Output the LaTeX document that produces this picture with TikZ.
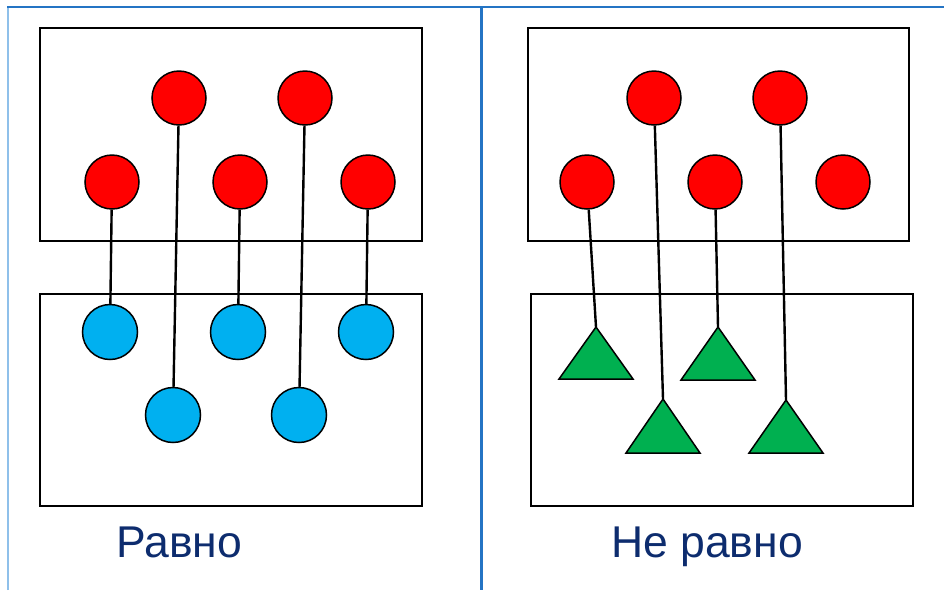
\documentclass[tikz,border=0pt]{standalone}
\usepackage{fontspec}
\setmainfont{Liberation Sans}
\definecolor{rd}{HTML}{FF0000}
\definecolor{bl}{HTML}{00B0F0}
\definecolor{gr}{HTML}{00B050}
\definecolor{navy}{HTML}{0D2C6E}
\definecolor{frameblue}{HTML}{2474C4}
\definecolor{lightblue}{HTML}{8FC0EA}
\begin{document}
\begin{tikzpicture}[x=1pt,y=-1pt,
  box/.style={draw=black,line width=1.9pt},
  redc/.style={circle,draw=black,fill=rd,line width=1.5pt,minimum size=54pt,inner sep=0pt},
  bluec/.style={circle,draw=black,fill=bl,line width=1.5pt,minimum size=55pt,inner sep=0pt},
  tri/.style={draw=black,fill=gr,line width=1.5pt,line join=miter},
  link/.style={draw=black,line width=2.4pt},
  lbl/.style={text=navy,font=\fontsize{44.5}{52}\selectfont,anchor=base west,inner sep=0pt}]
\useasboundingbox (0,0) rectangle (944,590);
% frame
\draw[lightblue,line width=1.5pt] (8,590) -- (8,7);
\draw[frameblue,line width=2.2pt] (7,7) -- (944,7);
\draw[frameblue,line width=3pt] (481,7) -- (481,590);
% left panel
\draw[box] (40,28) rectangle (422,241);
\draw[box] (40,294) rectangle (422,506);
\node[redc] (lr1) at (112,182) {};
\node[redc] (lr2) at (179,98) {};
\node[redc] (lr3) at (240,182) {};
\node[redc] (lr4) at (305,98) {};
\node[redc] (lr5) at (368,182) {};
\node[bluec] (lb1) at (110,332) {};
\node[bluec] (lb2) at (173,415) {};
\node[bluec] (lb3) at (238,332) {};
\node[bluec] (lb4) at (299,415) {};
\node[bluec] (lb5) at (366,332) {};
\draw[link] (lr1) -- (lb1);
\draw[link] (lr2) -- (lb2);
\draw[link] (lr3) -- (lb3);
\draw[link] (lr4) -- (lb4);
\draw[link] (lr5) -- (lb5);
\node[lbl] (leq) at (116,557) {Равно};
% right panel
\draw[box] (528,28) rectangle (909,241);
\draw[box] (531,294) rectangle (913,506);
\node[redc] (rr1) at (587,182) {};
\node[redc] (rr2) at (654,98) {};
\node[redc] (rr3) at (715,182) {};
\node[redc] (rr4) at (780,98) {};
\node[redc] (rr5) at (843,182) {};
\coordinate (t1) at (596,327);
\coordinate (t2) at (663,399);
\coordinate (t3) at (718,327);
\coordinate (t4) at (786,400);
\draw[link] (rr1) -- (t1);
\draw[link] (rr2) -- (t2);
\draw[link] (rr3) -- (t3);
\draw[link] (rr4) -- (t4);
\draw[tri] (t1) -- ++(37,52) -- ++(-74,0) -- cycle;
\draw[tri] (t2) -- ++(37,54) -- ++(-74,0) -- cycle;
\draw[tri] (t3) -- ++(37,53) -- ++(-74,0) -- cycle;
\draw[tri] (t4) -- ++(37,53) -- ++(-74,0) -- cycle;
\node[lbl] (rneq) at (611,557) {Не равно};
\end{tikzpicture}
\end{document}
